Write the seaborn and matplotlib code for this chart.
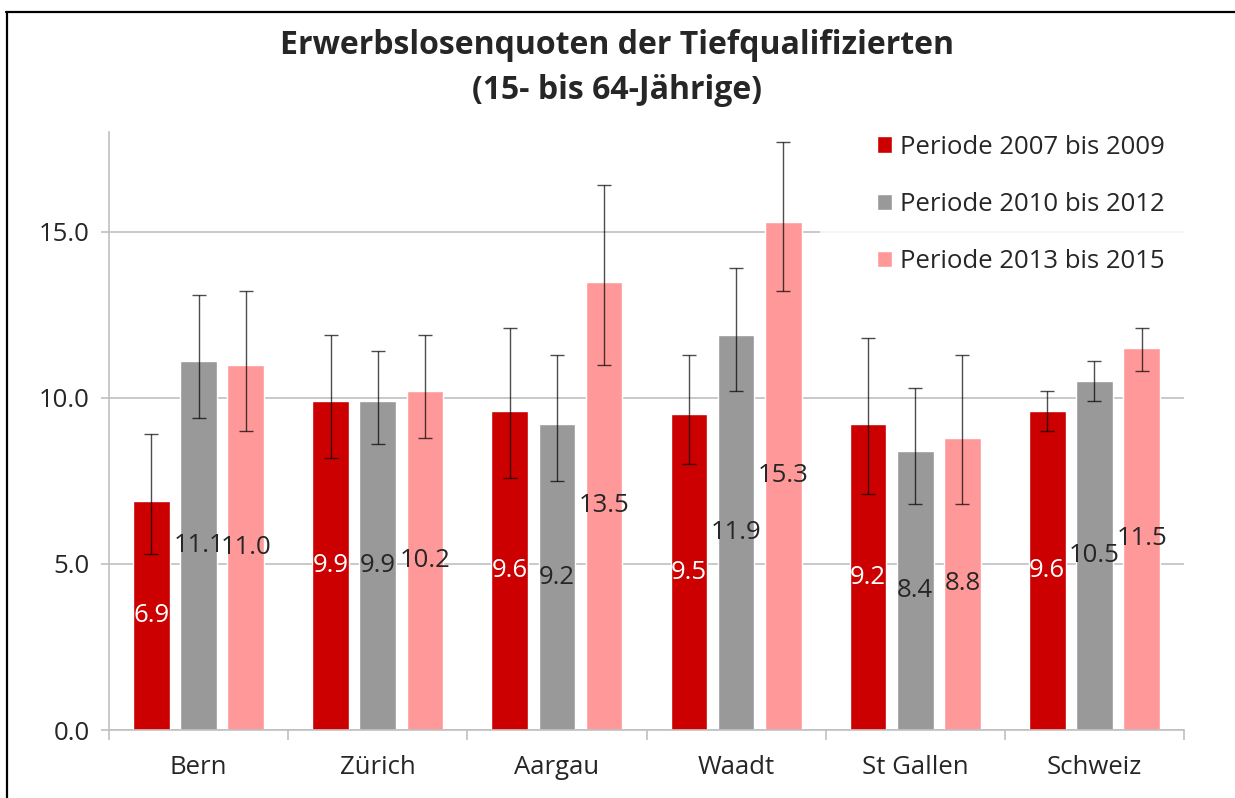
import numpy as np
import pandas as pd
import matplotlib.pyplot as plt
import seaborn as sns
from matplotlib.lines import Line2D
from matplotlib.ticker import FixedLocator

# Erwerbslosenquoten
regionen = ["Bern", "Zürich", "Aargau", "Waadt", "St Gallen", "Schweiz"]
perioden = ["Periode 2007 bis 2009", "Periode 2010 bis 2012", "Periode 2013 bis 2015"]

quote_2007 = [6.9, 9.9, 9.6, 9.5, 9.2, 9.6]
quote_2010 = [11.1, 9.9, 9.2, 11.9, 8.4, 10.5]
quote_2013 = [11.0, 10.2, 13.5, 15.3, 8.8, 11.5]

# confidence interval bounds (lower / upper)
unten_2007 = [5.3, 8.2, 7.6, 8.0, 7.1, 9.0]
oben_2007 = [8.9, 11.9, 12.1, 11.3, 11.8, 10.2]
unten_2010 = [9.4, 8.6, 7.5, 10.2, 6.8, 9.9]
oben_2010 = [13.1, 11.4, 11.3, 13.9, 10.3, 11.1]
unten_2013 = [9.0, 8.8, 11.0, 13.2, 6.8, 10.8]
oben_2013 = [13.2, 11.9, 16.4, 17.7, 11.3, 12.1]

farben = ["#cc0000", "#999999", "#ff9999"]
label_farben = ["white", "#262626", "#262626"]

quoten = [quote_2007, quote_2010, quote_2013]
unten = [unten_2007, unten_2010, unten_2013]
oben = [oben_2007, oben_2010, oben_2013]

df = pd.DataFrame({
    "region": regionen * 3,
    "periode": np.repeat(perioden, len(regionen)),
    "quote": quote_2007 + quote_2010 + quote_2013,
})

sns.set_style("white")
plt.rcParams['font.family'] = ['Open Sans', 'DejaVu Sans']
fs = 18.5

fig = plt.figure(figsize=(12.35, 7.98), dpi=100)
ax = fig.add_axes([109 / 1235, 1 - 730 / 798, 1075 / 1235, 598 / 798])

sns.barplot(data=df, x="region", y="quote", hue="periode", order=regionen,
            hue_order=perioden, palette=farben, saturation=1, width=0.79,
            gap=0.22, errorbar=None, ax=ax)

# error bars and value labels
for cont, q, lo, hi, lc in zip(ax.containers, quoten, unten, oben, label_farben):
    xs = [p.get_x() + p.get_width() / 2 for p in cont]
    q = np.array(q)
    yerr = [q - np.array(lo), np.array(hi) - q]
    ax.errorbar(xs, q, yerr=yerr, fmt="none", ecolor="black", alpha=0.7,
                elinewidth=1.0, capsize=5, capthick=1.0, zorder=3)
    ax.bar_label(cont, labels=[f"{v:.1f}" for v in q], label_type="center",
                 color=lc, fontsize=fs, zorder=4)

ax.set_xlim(-0.5, len(regionen) - 0.5)
ax.set_ylim(0, 18)
ax.set_yticks([0, 5, 10, 15])
ax.set_yticklabels([f"{v:.1f}" for v in [0, 5, 10, 15]])
ax.set_xlabel("")
ax.set_ylabel("")
ax.yaxis.grid(True, color="#c0c0c0", linewidth=1.2)
ax.set_axisbelow(True)

for s in ["top", "right"]:
    ax.spines[s].set_visible(False)
for s in ["left", "bottom"]:
    ax.spines[s].set_color("#c0c0c0")
    ax.spines[s].set_linewidth(1.2)

ax.tick_params(axis="y", length=6, width=1.2, color="#c0c0c0", pad=8,
               labelsize=fs, labelcolor="#262626", left=True)
ax.xaxis.set_minor_locator(FixedLocator(np.arange(-0.5, len(regionen), 1.0)))
ax.tick_params(axis="x", which="minor", length=7, width=1.2, color="#c0c0c0", bottom=True)
ax.tick_params(axis="x", which="major", length=0, pad=18, labelsize=fs, labelcolor="#262626")

# legend
old = ax.get_legend()
handles = old.legend_handles
labels = [t.get_text() for t in old.get_texts()]
old.remove()
leg = ax.legend(handles, labels, loc="upper left", bbox_to_anchor=((820 - 109) / 1075, 1.09),
                borderaxespad=0, borderpad=2.2, frameon=True, fontsize=fs,
                handlelength=0.6, handleheight=0.6, handletextpad=0.3, labelspacing=1.25)
leg.get_frame().set_facecolor("white")
leg.get_frame().set_edgecolor("none")
leg.get_frame().set_boxstyle("square", pad=0)
leg.set_zorder(0.8)
for t in leg.get_texts():
    t.set_color("#262626")

fig.text(0.5, 1 - 68 / 798, "Erwerbslosenquoten der Tiefqualifizierten\n(15- bis 64-Jährige)",
         ha="center", va="center", fontsize=23, fontweight="bold", linespacing=1.45)

# outer frame (top and left)
fig.add_artist(Line2D([6 / 1235, 1], [1 - 12 / 798, 1 - 12 / 798], transform=fig.transFigure,
                      color="black", linewidth=1.6))
fig.add_artist(Line2D([7 / 1235, 7 / 1235], [0, 1 - 12 / 798], transform=fig.transFigure,
                      color="black", linewidth=1.6))

fig.savefig("out.png", dpi=100)
